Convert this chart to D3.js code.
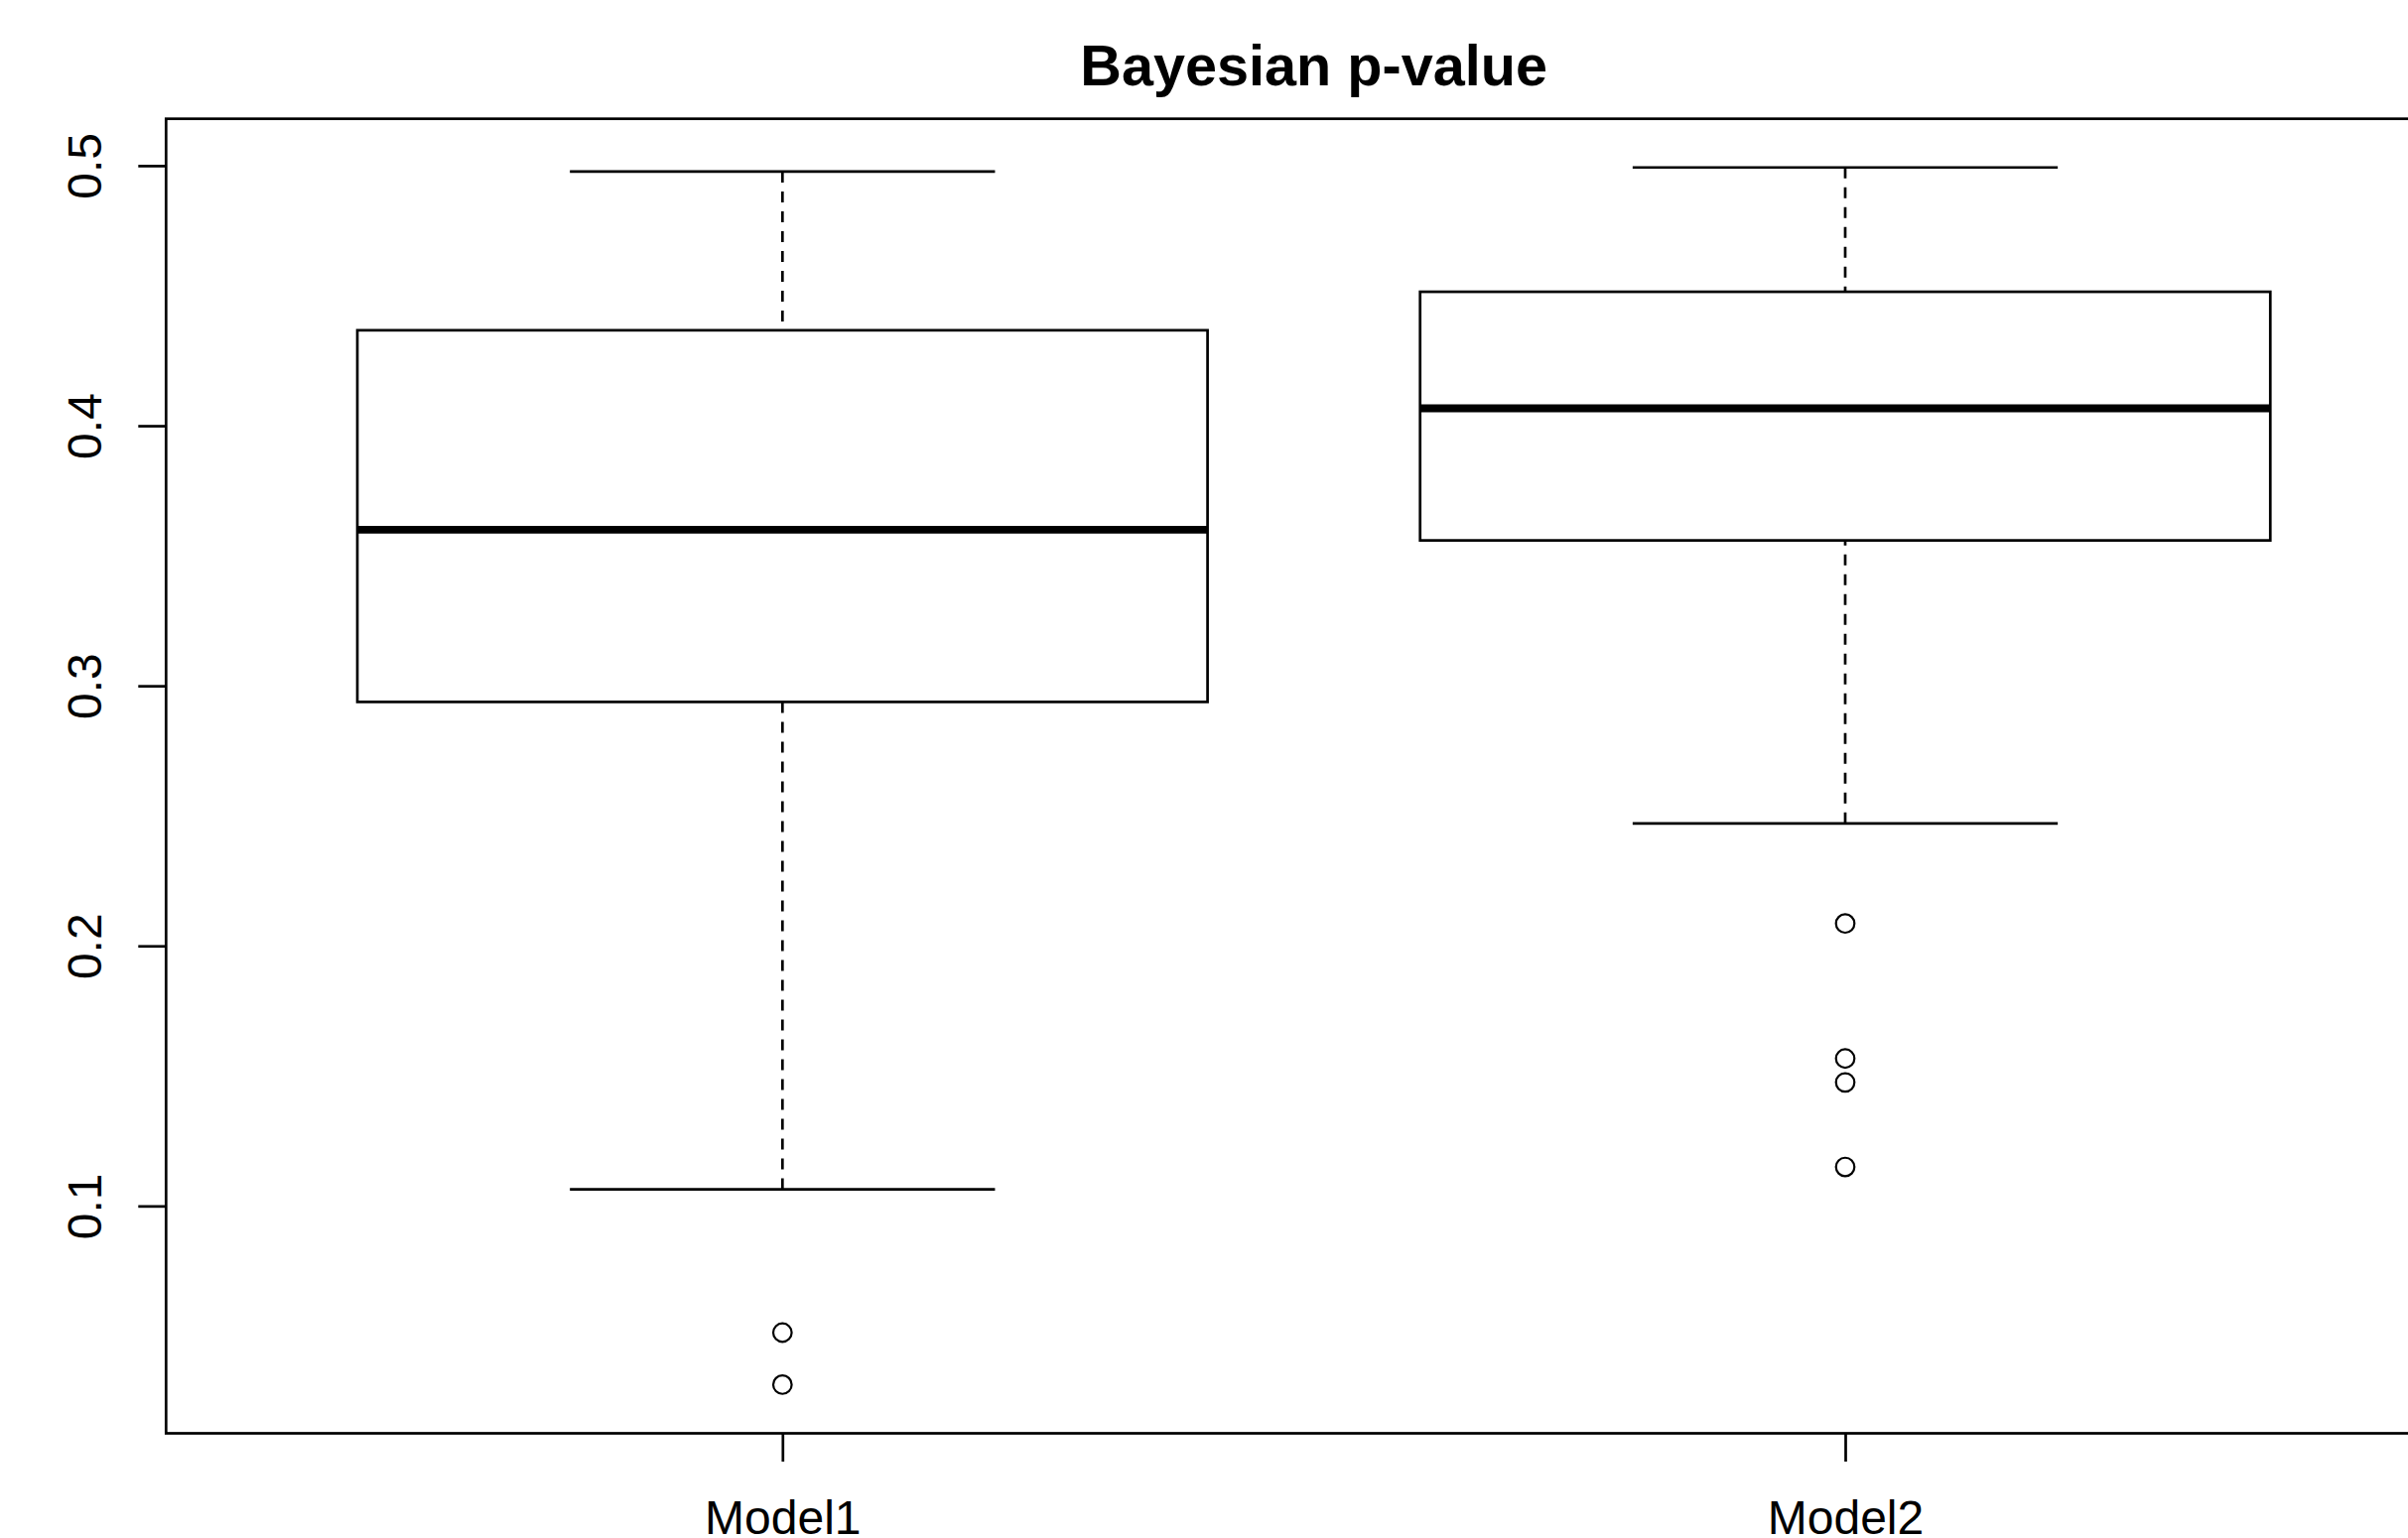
<!DOCTYPE html>
<html>
<head>
<meta charset="utf-8">
<script src="https://cdn.jsdelivr.net/npm/d3@7"></script>
<style>
  html, body { margin: 0; padding: 0; background: #fff; }
  svg { display: block; }
</style>
</head>
<body>
<svg id="chart" width="2426" height="1550"></svg>
<script>
// ---- data ----
const categories   = ["Model1", "Model2"];
const whiskerLow   = [0.1064, 0.2471];
const lowerHinge   = [0.2938, 0.3559];
const medians      = [0.3600, 0.4067];
const upperHinge   = [0.4367, 0.4515];
const whiskerHigh  = [0.4977, 0.4993];
const outliers1    = [0.0513, 0.0313];
const outliers2    = [0.2086, 0.1567, 0.1475, 0.1150];
const yTickValues  = [0.1, 0.2, 0.3, 0.4, 0.5];
const yTickLabels  = ["0.1", "0.2", "0.3", "0.4", "0.5"];
const titleText    = "Bayesian p-value";

const outliers = [outliers1, outliers2];

// ---- layout ----
const svg = d3.select("#chart");
const plotLeft = 167.3, plotTop = 119.7, plotBottom = 1444.5, plotRight = 2480;
const font = "'Liberation Sans', Arial, Helvetica, sans-serif";
const lw = 2.7;

const allVals = [].concat(whiskerLow, whiskerHigh, outliers1, outliers2);
const yMin = d3.min(allVals), yMax = d3.max(allVals);
const yExt = 0.04 * (yMax - yMin);
const y = d3.scaleLinear().domain([yMin - yExt, yMax + yExt]).range([plotBottom, plotTop]);

const n = categories.length;
const xExt = 0.04 * n;
const x = d3.scaleLinear().domain([0.5 - xExt, n + 0.5 + xExt]).range([plotLeft, plotRight]);

const boxHalf = 0.4, capHalf = 0.2;

// ---- boxes ----
const g = svg.append("g");
categories.forEach((c, i) => {
  const cx = x(i + 1);
  // whiskers (dashed) from whisker end to hinge
  g.append("line").attr("x1", cx).attr("x2", cx)
    .attr("y1", y(whiskerHigh[i])).attr("y2", y(upperHinge[i]))
    .attr("stroke", "#000").attr("stroke-width", lw).attr("stroke-dasharray", "11,9");
  g.append("line").attr("x1", cx).attr("x2", cx)
    .attr("y1", y(whiskerLow[i])).attr("y2", y(lowerHinge[i]))
    .attr("stroke", "#000").attr("stroke-width", lw).attr("stroke-dasharray", "11,9");
  // staples
  [whiskerHigh[i], whiskerLow[i]].forEach(v => {
    g.append("line").attr("x1", x(i + 1 - capHalf)).attr("x2", x(i + 1 + capHalf))
      .attr("y1", y(v)).attr("y2", y(v))
      .attr("stroke", "#000").attr("stroke-width", lw);
  });
  // box
  g.append("rect")
    .attr("x", x(i + 1 - boxHalf)).attr("y", y(upperHinge[i]))
    .attr("width", x(i + 1 + boxHalf) - x(i + 1 - boxHalf))
    .attr("height", y(lowerHinge[i]) - y(upperHinge[i]))
    .attr("fill", "none").attr("stroke", "#000").attr("stroke-width", lw);
  // median
  g.append("line").attr("x1", x(i + 1 - boxHalf)).attr("x2", x(i + 1 + boxHalf))
    .attr("y1", y(medians[i])).attr("y2", y(medians[i]))
    .attr("stroke", "#000").attr("stroke-width", 7.8);
  // outliers
  g.selectAll(null).data(outliers[i]).enter().append("circle")
    .attr("cx", cx).attr("cy", d => y(d)).attr("r", 9.3)
    .attr("fill", "none").attr("stroke", "#000").attr("stroke-width", 2.2);
});

// ---- frame ----
svg.append("rect")
  .attr("x", plotLeft).attr("y", plotTop)
  .attr("width", plotRight - plotLeft).attr("height", plotBottom - plotTop)
  .attr("fill", "none").attr("stroke", "#000").attr("stroke-width", lw);

// ---- y axis ----
const yAxis = svg.append("g").attr("transform", `translate(${plotLeft},0)`)
  .call(d3.axisLeft(y).tickValues(yTickValues).tickFormat((d, i) => yTickLabels[i])
        .tickSize(28).tickSizeOuter(0));
yAxis.select(".domain").remove();
yAxis.selectAll(".tick line").attr("stroke", "#000").attr("stroke-width", lw);
yAxis.selectAll(".tick text")
  .attr("transform", "rotate(-90)")
  .attr("x", 0).attr("y", -65.5).attr("dy", 0)
  .attr("text-anchor", "middle")
  .attr("fill", "#000")
  .style("font-family", font).style("font-size", "48px");

// ---- x axis ----
const xAxis = svg.append("g").attr("transform", `translate(0,${plotBottom})`)
  .call(d3.axisBottom(x).tickValues(categories.map((c, i) => i + 1))
        .tickFormat((d) => categories[d - 1]).tickSize(28.5).tickSizeOuter(0));
xAxis.select(".domain").remove();
xAxis.selectAll(".tick line").attr("stroke", "#000").attr("stroke-width", lw);
xAxis.selectAll(".tick text")
  .attr("y", 101.5).attr("dy", 0)
  .attr("text-anchor", "middle")
  .attr("fill", "#000")
  .style("font-family", font).style("font-size", "48px");

// ---- title ----
svg.append("text")
  .attr("x", (plotLeft + plotRight) / 2).attr("y", 85.7)
  .attr("text-anchor", "middle")
  .style("font-family", font).style("font-size", "57.6px").style("font-weight", "bold")
  .attr("fill", "#000")
  .text(titleText);
</script>
</body>
</html>
